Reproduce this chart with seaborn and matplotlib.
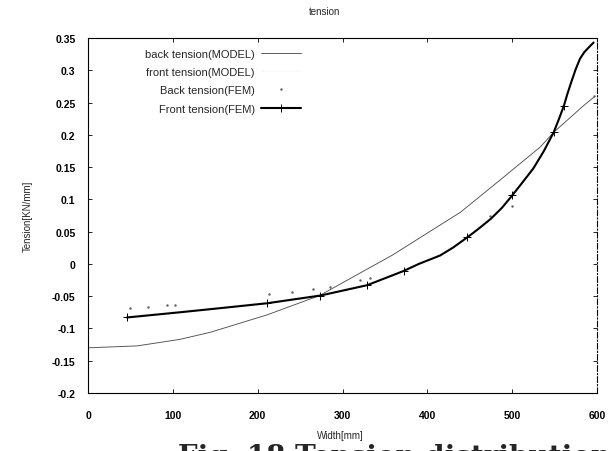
import numpy as np
import pandas as pd
import seaborn as sns
import matplotlib
matplotlib.use("Agg")
import matplotlib.pyplot as plt

# ---- data ----
back_model_x = [0, 58, 108, 144, 211, 273, 336, 358, 439, 483, 533, 549, 584, 596]
back_model_y = [-0.130, -0.127, -0.117, -0.106, -0.079, -0.049, -0.003, 0.013, 0.080, 0.127, 0.181, 0.204, 0.245, 0.258]

front_fem_x = [46, 108, 160, 211, 274, 329, 372, 390, 415, 430, 447, 460, 475, 488, 500, 512, 525, 537, 549, 555, 561, 565, 570, 575, 580, 585, 590, 596]
front_fem_y = [-0.083, -0.075, -0.068, -0.061, -0.049, -0.033, -0.011, 0.000, 0.013, 0.025, 0.041, 0.054, 0.070, 0.087, 0.106, 0.126, 0.148, 0.174, 0.204, 0.224, 0.245, 0.263, 0.283, 0.302, 0.318, 0.328, 0.335, 0.343]
front_fem_marked = [0, 3, 4, 5, 6, 10, 14, 18, 20]

front_model_x = front_fem_x
front_model_y = [-0.081, -0.073, -0.066, -0.059, -0.047, -0.031, -0.009, 0.002, 0.015, 0.027, 0.043, 0.056, 0.072, 0.089, 0.108, 0.128, 0.150, 0.176, 0.206, 0.226, 0.247, 0.265, 0.285, 0.304, 0.320, 0.330, 0.337, 0.345]

back_fem_x = [50, 71, 93, 103, 213, 240, 265, 285, 321, 333, 474, 500, 560, 596]
back_fem_y = [-0.068, -0.066, -0.064, -0.063, -0.047, -0.044, -0.039, -0.035, -0.025, -0.022, 0.075, 0.090, 0.245, 0.260]

x_ticks = [0, 100, 200, 300, 400, 500, 600]
y_ticks = [-0.2, -0.15, -0.1, -0.05, 0, 0.05, 0.1, 0.15, 0.2, 0.25, 0.3, 0.35]
y_tick_labels = ["-0.2", "-0.15", "-0.1", "-0.05", "0", "0.05", "0.1", "0.15", "0.2", "0.25", "0.3", "0.35"]

sns.set_theme(style="white")
plt.rcParams['font.family'] = ['Liberation Sans', 'DejaVu Sans']

fig = plt.figure(figsize=(6.14, 4.52), dpi=100)
ax = fig.add_axes([88/614, 1-394/452, (597-88)/614, (394-39)/452])

df_bm = pd.DataFrame({"x": back_model_x, "y": back_model_y})
df_fm = pd.DataFrame({"x": front_model_x, "y": front_model_y})
df_bf = pd.DataFrame({"x": back_fem_x, "y": back_fem_y})
df_ff = pd.DataFrame({"x": front_fem_x, "y": front_fem_y})

sns.lineplot(data=df_bm, x="x", y="y", ax=ax, color="#505050", lw=0.65,
             label="back tension(MODEL)", sort=False)
sns.lineplot(data=df_fm, x="x", y="y", ax=ax, color="#e8e8e8", lw=0.5,
             linestyle=":", label="front tension(MODEL)", sort=False)
sns.lineplot(data=df_bf, x="x", y="y", ax=ax, color="#666666", lw=0,
             marker=".", markersize=2, markeredgecolor="#666666",
             label="Back tension(FEM)", sort=False)
sns.lineplot(data=df_ff, x="x", y="y", ax=ax, color="black", lw=1.5,
             marker="+", markersize=6, markeredgewidth=0.7, markeredgecolor="black",
             markevery=front_fem_marked, label="Front tension(FEM)", sort=False)

ax.set_xlim(0, 600)
ax.set_ylim(-0.2, 0.35)
ax.set_xticks(x_ticks)
ax.set_xticklabels([str(t) for t in x_ticks], fontsize=7.5, fontweight="bold")
ax.set_yticks(y_ticks)
ax.set_yticklabels(y_tick_labels, fontsize=7.5, fontweight="bold")
ax.tick_params(direction="in", length=3, width=0.6, top=True, right=True,
               bottom=True, left=True, pad=9, colors="black")
ax.tick_params(axis="x", pad=12)

for s in ax.spines.values():
    s.set_color("black")
    s.set_linewidth(0.8)
ax.spines["right"].set_linestyle((0, (5, 2, 1, 2)))

ax.set_xlabel("")
ax.set_ylabel("Tension[KN/mm]", fontsize=7, labelpad=14)
fig.text(340/614, 1 - 436/452, "Width[mm]", ha="center", va="center", fontsize=7)
fig.text(325/614, 1 - 12/452, "tension", ha="center", va="center", fontsize=7)

leg = ax.legend(loc="upper right", bbox_to_anchor=(307/614, 1 - 44/452),
                bbox_transform=fig.transFigure, frameon=False, markerfirst=False,
                fontsize=8, handlelength=3.6, labelspacing=0.75, borderpad=0,
                handletextpad=0.6)

fig.text(178/614, 1 - 465/452, "Fig. 18 Tension distribution", ha="left", va="baseline",
         fontsize=20, fontweight="bold", family="DejaVu Serif")

fig.savefig("out.png", dpi=100)
